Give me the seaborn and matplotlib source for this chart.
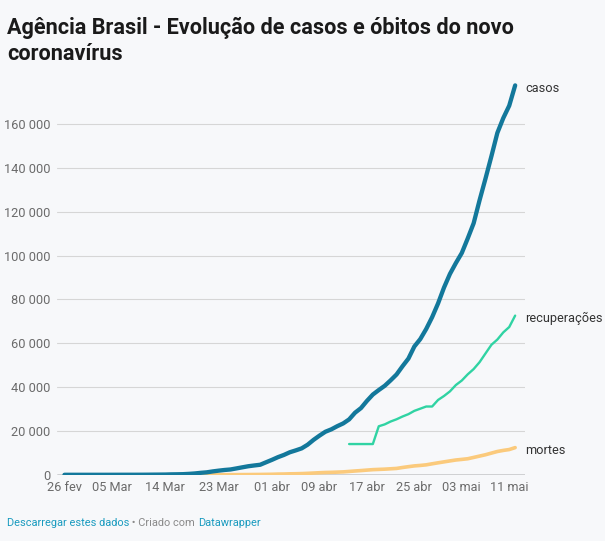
import matplotlib
matplotlib.use("Agg")
import matplotlib.pyplot as plt
import seaborn as sns
import pandas as pd

# ---------------- data ----------------
start_date = "2020-02-26"
casos = [1, 1, 1, 2,
         2, 2, 2, 3, 8, 13, 19, 25, 25, 34, 52, 77, 98, 121, 200, 234, 291, 428, 621, 904,
         1128, 1546, 1891, 2201, 2433, 2915, 3417, 3904, 4256, 4579, 5717,
         6836, 8044, 9056, 10278, 11130, 12056, 13717, 15927, 17857, 19638, 20727, 22169,
         23430, 25262, 28320, 30425, 33682, 36599, 38654, 40581, 43079, 45757, 49492, 52995,
         58509, 61888, 66501, 71886, 78162, 85380,
         91589, 96559, 101147, 107780, 114715, 125218, 135106, 145328, 155939, 162699,
         168331, 177589]
mortes = [0, 0, 0, 0,
          0, 0, 0, 0, 0, 0, 0, 0, 0, 0, 0, 0, 0, 0, 0, 0,
          1, 4, 7, 11, 18, 25, 34, 46, 59, 77, 92, 111, 136, 159, 201,
          240, 324, 359, 445, 486, 553, 667, 800, 941, 1057, 1124, 1223, 1328, 1532, 1736,
          1924, 2141, 2347, 2462, 2575, 2741, 2906, 3331, 3704, 4057, 4271, 4543, 5017,
          5466, 5901,
          6329, 6750, 7025, 7321, 7921, 8536, 9146, 9897, 10627, 11123, 11519, 12400]
rec_start_date = "2020-04-14"
recuperacoes = [14026, 14026, 14026, 14026, 14026, 22130, 22991, 24300, 25318, 26573,
                27655, 29160, 30152, 31142, 31142, 34132, 35935,
                38039, 40937, 42991, 45815, 48221, 51370, 55350, 59297, 61685, 64957,
                67384, 72597]
x_tick_dates = ["2020-02-26", "2020-03-05", "2020-03-14", "2020-03-23", "2020-04-01",
                "2020-04-09", "2020-04-17", "2020-04-25", "2020-05-03", "2020-05-11"]
x_tick_labels = ["26 fev", "05 Mar", "14 Mar", "23 Mar", "01 abr",
                 "09 abr", "17 abr", "25 abr", "03 mai", "11 mai"]
y_ticks = [0, 20000, 40000, 60000, 80000, 100000, 120000, 140000, 160000]
y_tick_labels = ["0", "20 000", "40 000", "60 000", "80 000", "100 000",
                 "120 000", "140 000", "160 000"]
series_labels = ["casos", "recuperações", "mortes"]

# ---------------- frames ----------------
dates = pd.date_range(start_date, periods=len(casos), freq="D")
rec_dates = pd.date_range(rec_start_date, periods=len(recuperacoes), freq="D")
df_main = pd.DataFrame({"data": dates, "casos": casos, "mortes": mortes})
df_rec = pd.DataFrame({"data": rec_dates, "recuperações": recuperacoes})

# ---------------- style ----------------
sns.set_theme(style="white")
plt.rcParams["font.family"] = ["Roboto", "DejaVu Sans"]

BG = "#f7f8fa"
C_CASOS = "#13789b"
C_REC = "#30d3a3"
C_MORT = "#fbca7c"

W, H = 605, 541
fig = plt.figure(figsize=(W / 100, H / 100), dpi=100, facecolor=BG)

ax_left, ax_right = 57, 525
ax_bottom, ax_top = 474.8, 80.1
ax = fig.add_axes([ax_left / W, (H - ax_bottom) / H,
                   (ax_right - ax_left) / W, (ax_bottom - ax_top) / H])
ax.set_facecolor(BG)

sns.lineplot(data=df_main, x="data", y="mortes", ax=ax, color=C_MORT, lw=2.6,
             solid_capstyle="round", zorder=3)
sns.lineplot(data=df_rec, x="data", y="recuperações", ax=ax, color=C_REC, lw=1.7,
             solid_capstyle="round", zorder=4)
sns.lineplot(data=df_main, x="data", y="casos", ax=ax, color=C_CASOS, lw=3.1,
             solid_capstyle="round", zorder=5)

x0 = pd.Timestamp(start_date)
ax.set_xlim(x0 - pd.Timedelta(days=1.26), dates[-1] + pd.Timedelta(days=1.66))
ax.set_ylim(0, 180000)

ax.set_yticks(y_ticks)
ax.set_yticklabels(y_tick_labels)
ax.set_xticks(pd.to_datetime(x_tick_dates))
ax.set_xticklabels(x_tick_labels)
ax.set_xlabel("")
ax.set_ylabel("")

ax.tick_params(axis="y", length=0, pad=5, labelsize=9.2, labelcolor="#6b6b6b")
ax.tick_params(axis="x", length=0, pad=4.5, labelsize=9.2, labelcolor="#6b6b6b")

for s in ax.spines.values():
    s.set_visible(False)
for yv in y_ticks[1:]:
    ax.axhline(yv, color="#d6d6d6", lw=0.8, zorder=1)
ax.axhline(0, color="#333333", lw=1.0, zorder=2)

# end labels
ends = [(dates[-1], casos[-1]), (rec_dates[-1], recuperacoes[-1]), (dates[-1], mortes[-1])]
for lab, (xd, yv) in zip(series_labels, ends):
    ax.annotate(lab, xy=(xd, yv), xytext=(10, -3), textcoords="offset pixels",
                ha="left", va="center", fontsize=9.2, color="#333333",
                annotation_clip=False)

# title
fig.text(7 / W, 1 - 34 / H, "Agência Brasil - Evolução de casos e óbitos do novo",
         fontsize=15.6, fontweight="bold", color="#1a1a1a", ha="left", va="baseline")
fig.text(7 / W, 1 - 60 / H, "coronavírus",
         fontsize=15.6, fontweight="bold", color="#1a1a1a", ha="left", va="baseline")

# footer
fs = 7.9
t1 = fig.text(7 / W, 1 - 526 / H, "Descarregar estes dados", fontsize=fs,
              color="#1a9bbf", ha="left", va="baseline")
fig.canvas.draw()
r = fig.canvas.get_renderer()
bb = t1.get_window_extent(r)
t2 = fig.text(bb.x1 / W, 1 - 526 / H, " • Criado com ", fontsize=fs,
              color="#8a8a8a", ha="left", va="baseline")
bb2 = t2.get_window_extent(r)
fig.text(bb2.x1 / W, 1 - 526 / H, "Datawrapper", fontsize=fs,
         color="#1a9bbf", ha="left", va="baseline")

fig.savefig("out.png", dpi=100, facecolor=BG)
